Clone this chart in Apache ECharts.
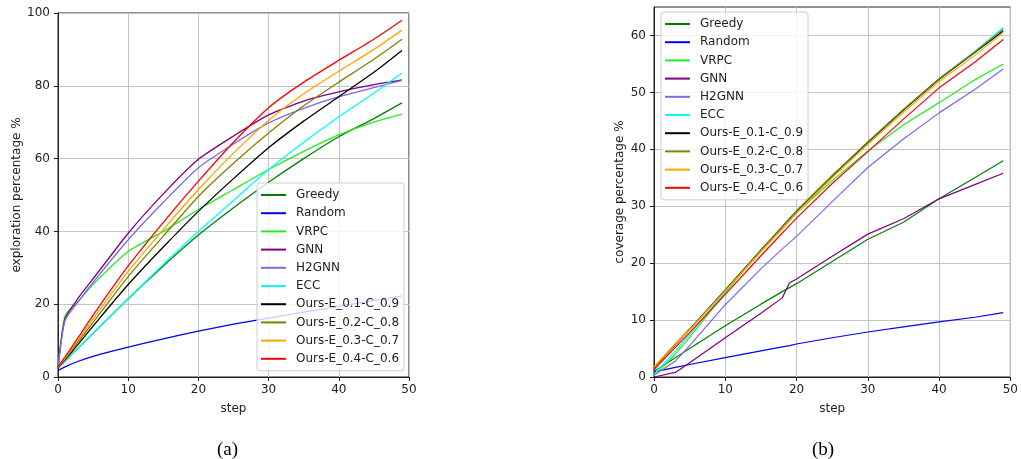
<!DOCTYPE html>
<html>
<head>
<meta charset="UTF-8">
<title></title>
<style>
html,body{margin:0;padding:0;background:#fff;}
#box{width:1021px;height:459px;}
</style>
</head>
<body>
<div id="box"></div>
<script type="text/javascript" src="https://cdn.jsdelivr.net/npm/echarts@6/dist/echarts.min.js"></script>
<script type="text/javascript">
// legend names + colours (same order in both plots)
var names = ['Greedy','Random','VRPC','GNN','H2GNN','ECC','Ours-E_0.1-C_0.9','Ours-E_0.2-C_0.8','Ours-E_0.3-C_0.7','Ours-E_0.4-C_0.6'];
var colors = ['#008000','#0000ff','#22ee22','#800080','#7b68ee','#00ffff','#000000','#808000','#ffa500','#ff0000'];

var xTicks = [0,10,20,30,40,50];
var yTicksA = [0,20,40,60,80,100];
var yTicksB = [0,10,20,30,40,50,60];

// (a) exploration percentage
var stepsA  = [0, 1, 3, 5, 10, 15, 20, 25, 30, 35, 40, 45, 49];
var greedyA = [2.5, 4.4, 8.2, 12, 21.5, 30.5, 39, 46.5, 53.5, 60, 66, 71, 75.3];
var randomA = [1.8, 2.8, 4.4, 5.7, 8.2, 10.5, 12.6, 14.5, 16.2, 17.8, 19.4, 21, 22.3];
var vrpcA   = [2.5, 16.8, 21, 25.5, 34.5, 40, 46, 51.5, 57, 62, 66.5, 70, 72.2];
var gnnA    = [2.5, 16, 22, 27, 39.5, 50.3, 59.8, 66.2, 72, 75.8, 78.3, 80.3, 81.6];
var h2gnnA  = [2.5, 15.5, 21, 26, 37.7, 48, 57.5, 64, 69.8, 73.8, 77, 79.5, 81.5];
var eccA    = [2.5, 4.4, 8.2, 12, 21.5, 31, 40, 48.5, 57, 64.5, 71.5, 78, 83.5];
var ours1A  = [2.6, 4.7, 9.3, 14, 25.4, 35.7, 45.5, 54.5, 63, 70.3, 77, 83.7, 89.7];
var ours2A  = [2.7, 5, 10, 15, 27.6, 38.7, 49.6, 58.7, 67, 74.5, 81, 87.3, 92.8];
var ours3A  = [2.8, 5.2, 10.5, 16, 29, 40.5, 51.5, 61.5, 70.5, 77.8, 84, 90, 95.3];
var ours4A  = [2.8, 5.5, 11.2, 17, 30.5, 42.5, 53.8, 64.5, 74, 81, 87, 92.8, 98];

// (b) coverage percentage
var stepsB  = [0, 3, 5, 10, 15, 18, 19, 20, 25, 30, 35, 40, 45, 49];
var greedyB = [1, 3.4, 5, 9, 12.8, 15, 15.7, 16.4, 20.3, 24.2, 27.2, 31.3, 35, 38];
var randomB = [0.9, 1.7, 2.2, 3.4, 4.6, 5.3, 5.5, 5.8, 6.9, 7.9, 8.8, 9.7, 10.5, 11.3];
var vrpcB   = [0.3, 4, 7, 14.8, 22.3, 26.3, 27.5, 28.8, 34.5, 39.7, 44.3, 48.2, 52.2, 55];
var gnnB    = [0, 0.8, 2.5, 6.9, 11.2, 13.9, 16.5, 17.2, 21.2, 25.1, 27.8, 31.3, 33.8, 35.8];
var h2gnnB  = [0.3, 2.8, 5.5, 12.7, 19, 22.5, 23.6, 24.7, 30.8, 36.8, 41.8, 46.4, 50.5, 54.1];
var eccB    = [0.5, 4.6, 7.5, 15, 22.2, 26.3, 27.6, 29, 35.3, 41.3, 47, 52.4, 57.2, 61.4];
var ours1B  = [1.6, 5.8, 8.4, 15.3, 22.3, 26.4, 27.8, 29.1, 35.3, 41.2, 46.9, 52.3, 57, 60.8];
var ours2B  = [1.5, 5.6, 8.3, 15.3, 22.3, 26.4, 27.8, 29.2, 35.4, 41.3, 47, 52.4, 57.1, 61.1];
var ours3B  = [1.8, 5.8, 8.3, 15.1, 22, 26, 27.4, 28.8, 35, 40.9, 46.5, 51.9, 56.5, 60.5];
var ours4B  = [1.3, 5.2, 7.8, 14.5, 21.3, 25.3, 26.6, 27.9, 34, 39.6, 45.3, 50.8, 55.3, 59.3];

var dataA = [greedyA, randomA, vrpcA, gnnA, h2gnnA, eccA, ours1A, ours2A, ours3A, ours4A];
var dataB = [greedyB, randomB, vrpcB, gnnB, h2gnnB, eccB, ours1B, ours2B, ours3B, ours4B];

var font = 'DejaVu Sans';

function pairs(xs, ys){
	return ys.map(function(v, i){ return [xs[i], v]; });
}

var series = [];
names.forEach(function(n, i){
	series.push({
		name: n, type: 'line', xAxisIndex: 0, yAxisIndex: 0,
		data: pairs(stepsA, dataA[i]),
		showSymbol: false, smooth: 0.2,
		lineStyle: {color: colors[i], width: 1.3},
		itemStyle: {color: colors[i]}
	});
});
names.forEach(function(n, i){
	series.push({
		name: n, type: 'line', xAxisIndex: 1, yAxisIndex: 1,
		data: pairs(stepsB, dataB[i]),
		showSymbol: false, smooth: false,
		lineStyle: {color: colors[i], width: 1.2},
		itemStyle: {color: colors[i]}
	});
});

function xAxis(idx){
	return {
		type: 'value', gridIndex: idx, min: 0, max: 50, interval: 10,
		name: 'step', nameLocation: 'middle', nameGap: 26,
		nameTextStyle: {fontFamily: font, fontSize: 12, color: '#222'},
		axisLine: {show: true, lineStyle: {color: '#222', width: 1}},
		axisTick: {show: true, inside: false, length: 4, lineStyle: {color: '#222'}},
		axisLabel: {fontFamily: font, fontSize: 12, color: '#222', margin: 7},
		splitLine: {show: true, lineStyle: {color: '#c4c4c4', width: 1}}
	};
}

var legendBase = {
	orient: 'vertical', icon: 'rect', itemWidth: 25, itemHeight: 2, itemGap: 4.2,
	padding: [5, 5, 5, 4],
	backgroundColor: 'rgba(255,255,255,0.8)', borderColor: '#cccccc', borderWidth: 1, borderRadius: 3,
	textStyle: {fontFamily: font, fontSize: 12, color: '#222', lineHeight: 14, padding: [0, 0, 0, 5]},
	data: names
};

var box = document.getElementById('box');
var myechart = echarts.init(box);

var option = {
	animation: false,
	backgroundColor: '#fff',
	grid: [
		{left: 58, top: 13, width: 351, height: 364, show: true, borderColor: '#222', borderWidth: 1, backgroundColor: 'transparent'},
		{left: 654, top: 7, width: 359, height: 370, show: true, borderColor: '#222', borderWidth: 1, backgroundColor: 'transparent'}
	],
	xAxis: [xAxis(0), xAxis(1)],
	yAxis: [
		{
			type: 'value', gridIndex: 0, min: 0, max: 100, interval: 20,
			name: 'exploration percentage %', nameLocation: 'middle', nameGap: 35, nameRotate: 90,
			nameTextStyle: {fontFamily: font, fontSize: 12, color: '#222'},
			axisLine: {show: true, lineStyle: {color: '#222', width: 1}},
			axisTick: {show: true, inside: false, length: 4, lineStyle: {color: '#222'}},
			axisLabel: {fontFamily: font, fontSize: 12, color: '#222', margin: 8},
			splitLine: {show: true, lineStyle: {color: '#c4c4c4', width: 1}}
		},
		{
			type: 'value', gridIndex: 1, min: 0, max: 65, interval: 10,
			name: 'coverage percentage %', nameLocation: 'middle', nameGap: 28, nameRotate: 90,
			nameTextStyle: {fontFamily: font, fontSize: 12, color: '#222'},
			axisLine: {show: true, lineStyle: {color: '#222', width: 1}},
			axisTick: {show: true, inside: false, length: 4, lineStyle: {color: '#222'}, customValues: yTicksB},
			axisLabel: {fontFamily: font, fontSize: 12, color: '#222', margin: 8, customValues: yTicksB},
			splitLine: {show: true, lineStyle: {color: '#c4c4c4', width: 1}}
		}
	],
	legend: [
		Object.assign({}, legendBase, {left: 257, top: 183}),
		Object.assign({}, legendBase, {left: 661, top: 12})
	],
	graphic: [
		{type: 'text', left: 217, top: 441, style: {text: '(a)', fontFamily: 'Liberation Serif', fontSize: 19, fill: '#000'}},
		{type: 'text', left: 812, top: 441, style: {text: '(b)', fontFamily: 'Liberation Serif', fontSize: 19, fill: '#000'}}
	],
	series: series
};

myechart.setOption(option);
</script>
</body>
</html>
